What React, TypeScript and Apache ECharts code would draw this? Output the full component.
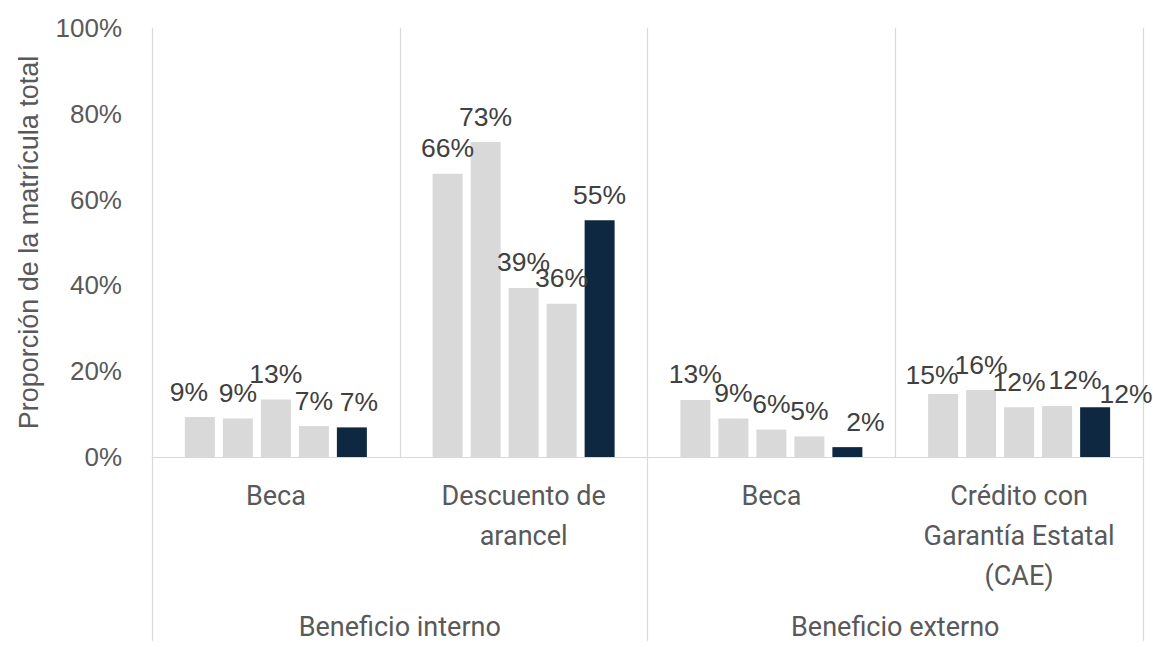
import React, { useEffect, useRef } from "react";
import * as echarts from "echarts";

const categories = ["Beca", "Descuento de\narancel", "Beca", "Crédito con\nGarantía Estatal\n(CAE)"];
const groups = ["Beneficio interno", "Beneficio externo"];
const yTicks = [0, 20, 40, 60, 80, 100];

const serie1 = [9.3, 66.0, 13.3, 14.7];
const serie2 = [9.0, 73.4, 9.0, 15.6];
const serie3 = [13.4, 39.4, 6.4, 11.6];
const serie4 = [7.2, 35.7, 4.8, 11.9];
const serie5 = [6.9, 55.2, 2.3, 11.6];

const seriesNames = ["Serie 1", "Serie 2", "Serie 3", "Serie 4", "Serie 5"];
const seriesValues = [serie1, serie2, serie3, serie4, serie5];

const LIGHT = "#d9d9d9";
const DARK = "#0e2841";

// label nudges (Excel moved overlapping labels)
const labelNudge: Record<string, [number, number]> = {
  "0-0": [-11, 0],
  "4-0": [7, 0],
  "4-2": [18, 0],
  "0-3": [-11, 7],
  "3-3": [18, 0],
  "4-3": [31, 12],
};

export default function App() {
  const ref = useRef<HTMLDivElement>(null);
  useEffect(() => {
    if (!ref.current) return;
    const chart = echarts.init(ref.current, null, { renderer: "svg" });
    const series = seriesValues.map((vals, i) => ({
      name: seriesNames[i],
      type: "bar",
      xAxisIndex: 0,
      barWidth: 30,
      barGap: "26.67%",
      itemStyle: { color: i === 4 ? DARK : LIGHT },
      label: {
        show: true,
        position: "top",
        distance: 12,
        fontFamily: "Liberation Sans",
        fontSize: 26.5,
        color: "#404040",
        formatter: (p: any) => Math.round(p.value) + "%",
      },
      data: vals.map((v, j) => {
        const n = labelNudge[`${i}-${j}`];
        return n ? { value: v, label: { offset: n } } : v;
      }),
    }));
    chart.setOption({
      animation: false,
      grid: { left: 152, right: 10, top: 28, bottom: 184, containLabel: false },
      xAxis: [
        {
          type: "category",
          data: categories,
          axisLine: { show: true, lineStyle: { color: LIGHT, width: 1.2 } },
          axisTick: { show: false },
          splitLine: { show: true, lineStyle: { color: LIGHT, width: 1.2 } },
          axisLabel: {
            interval: 0,
            margin: 19,
            fontFamily: "Roboto",
            fontSize: 27,
            lineHeight: 40,
            color: "#595959",
            align: "center",
          },
        },
        {
          type: "category",
          data: groups,
          position: "bottom",
          axisLine: { show: false },
          axisTick: { show: true, length: 184, lineStyle: { color: LIGHT, width: 1.2 } },
          splitLine: { show: false },
          axisLabel: {
            interval: 0,
            margin: 150,
            fontFamily: "Roboto",
            fontSize: 27,
            lineHeight: 40,
            color: "#595959",
          },
        },
      ],
      yAxis: {
        type: "value",
        min: yTicks[0],
        max: yTicks[yTicks.length - 1],
        interval: 20,
        axisLine: { show: false },
        axisTick: { show: false },
        splitLine: { show: false },
        axisLabel: {
          margin: 30,
          fontFamily: "Liberation Sans",
          fontSize: 26,
          color: "#595959",
          formatter: "{value}%",
        },
        name: "Proporción de la matrícula total",
        nameLocation: "middle",
        nameGap: 110,
        nameTextStyle: { fontFamily: "Liberation Sans", fontSize: 27, color: "#595959" },
      },
      series,
    });
    return () => chart.dispose();
  }, []);
  return (
    <div
      ref={ref}
      style={{ position: "fixed", left: 0, top: 0, width: 1153, height: 647, background: "#fff" }}
    />
  );
}
